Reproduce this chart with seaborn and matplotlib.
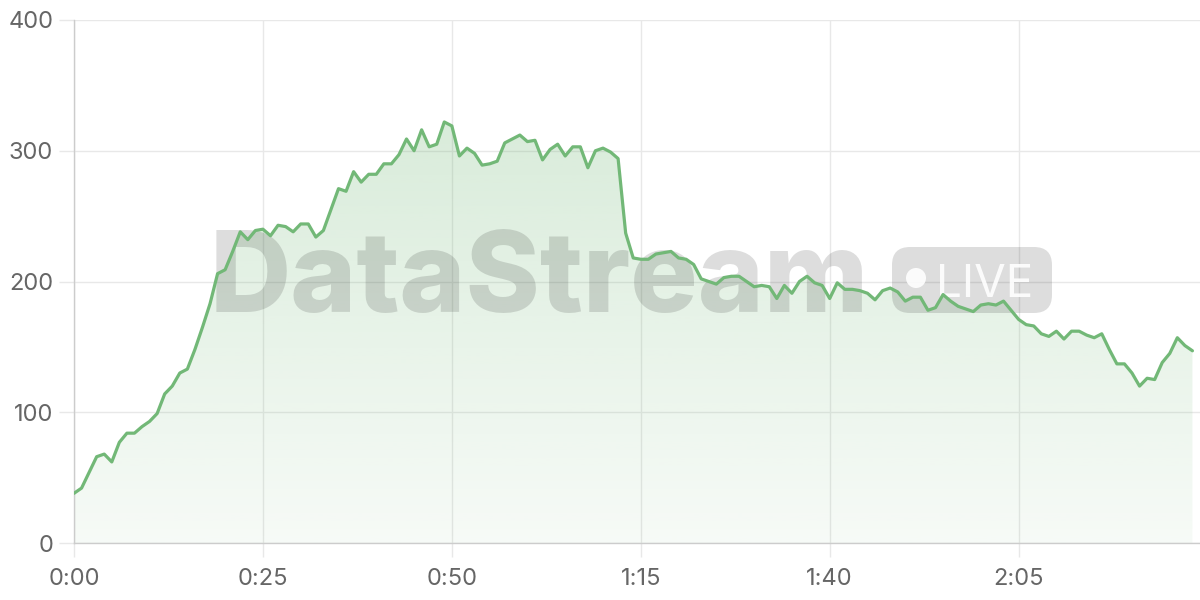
import numpy as np
import pandas as pd
import matplotlib
matplotlib.use("Agg")
import matplotlib.pyplot as plt
from matplotlib.patches import Polygon, FancyBboxPatch, Ellipse
import seaborn as sns

# dados (um ponto por minuto)
viewers = [
    38, 42, 54, 66, 68, 62, 77, 84, 84, 89,
    93, 99, 114, 120, 130, 133, 148, 165, 183, 206,
    209, 223, 238, 232, 239, 240, 235, 243, 242, 238,
    244, 244, 234, 239, 255, 271, 269, 284, 276, 282,
    282, 290, 290, 297, 309, 300, 316, 303, 305, 322,
    319, 296, 302, 298, 289, 290, 292, 306, 309, 312,
    307, 308, 293, 301, 305, 296, 303, 303, 287, 300,
    302, 299, 294, 237, 218, 217, 217, 221, 222, 223,
    218, 217, 213, 202, 200, 198, 203, 204, 204, 200,
    196, 197, 196, 187, 197, 191, 200, 204, 199, 197,
    187, 199, 194, 194, 193, 191, 186, 193, 195, 192,
    185, 188, 188, 178, 180, 190, 185, 181, 179, 177,
    182, 183, 182, 185, 178, 171, 167, 166, 160, 158,
    162, 156, 162, 162, 159, 157, 160, 148, 137, 137,
    130, 120, 126, 125, 138, 145, 157, 151, 147,
]
minutes = list(range(len(viewers)))
tick_minutes = [0, 25, 50, 75, 100, 125]
tick_labels = ["0:00", "0:25", "0:50", "1:15", "1:40", "2:05"]
y_ticks = [0, 100, 200, 300, 400]

df = pd.DataFrame({"minute": minutes, "viewers": viewers})

sns.set_theme(style="white")
plt.rcParams["font.family"] = ["Inter", "DejaVu Sans"]

green = "#72b877"
rgb = matplotlib.colors.to_rgb(green)

fig = plt.figure(figsize=(12, 6), dpi=100)
ax = fig.add_axes([74 / 1200, 57 / 600, 1126 / 1200, 523 / 600])

# preenchimento em degradê
verts = np.column_stack([
    np.r_[minutes[0], minutes, minutes[-1]],
    np.r_[0, viewers, 0],
])
poly = Polygon(verts, closed=True, facecolor="none", edgecolor="none")
ax.add_patch(poly)
grad = np.zeros((256, 1, 4))
grad[..., :3] = rgb
grad[..., 3] = np.linspace(0.06, 0.32, 256)[:, None]
im = ax.imshow(grad, extent=[0, 148, 0, 400], origin="lower",
               aspect="auto", zorder=1, interpolation="bilinear")
im.set_clip_path(poly)

# linha
sns.lineplot(data=df, x="minute", y="viewers", color=green,
             linewidth=2.3, ax=ax, zorder=4)

# marca d'água
wm = dict(transform=ax.transAxes, zorder=3)
ax.text((210 - 74) / 1126, (543 - 312) / 523, "DataStream",
        fontsize=81, fontweight="heavy", color="black", alpha=0.135,
        ha="left", va="baseline", **wm)
badge = FancyBboxPatch(((892 - 74) / 1126, (543 - 313) / 523),
                       160 / 1126, 66 / 523,
                       boxstyle="round,pad=0,rounding_size=%f" % (18 / 1126),
                       mutation_aspect=1126 / 523,
                       facecolor="black", edgecolor="none", alpha=0.135, **wm)
ax.add_patch(badge)
ax.add_patch(Ellipse(((916 - 74) / 1126, (543 - 278) / 523),
                     20 / 1126, 20 / 523, facecolor="white",
                     edgecolor="none", alpha=0.9, **wm))
ax.text((936 - 74) / 1126, (543 - 297) / 523, "LIVE", fontsize=33,
        color="white", alpha=0.9, ha="left", va="baseline", **wm)

# eixos
ax.set_xlim(0, 149)
ax.set_ylim(0, 400)
ax.set_xticks(tick_minutes, tick_labels)
ax.set_yticks(y_ticks)
ax.set_xlabel("")
ax.set_ylabel("")
ax.grid(True, color="#e8e8e8", linewidth=1)
ax.set_axisbelow(True)
for s in ["top", "right"]:
    ax.spines[s].set_visible(False)
for s in ["left", "bottom"]:
    ax.spines[s].set_color("#cccccc")
    ax.spines[s].set_linewidth(1)
ax.tick_params(axis="y", length=11, width=1, color="#e8e8e8", pad=4,
               labelsize=17, labelcolor="#666666", left=True)
ax.tick_params(axis="x", length=10, width=1, color="#e8e8e8", pad=8,
               labelsize=17, labelcolor="#666666", bottom=True)

plt.savefig("out.png", dpi=100)
plt.close()
